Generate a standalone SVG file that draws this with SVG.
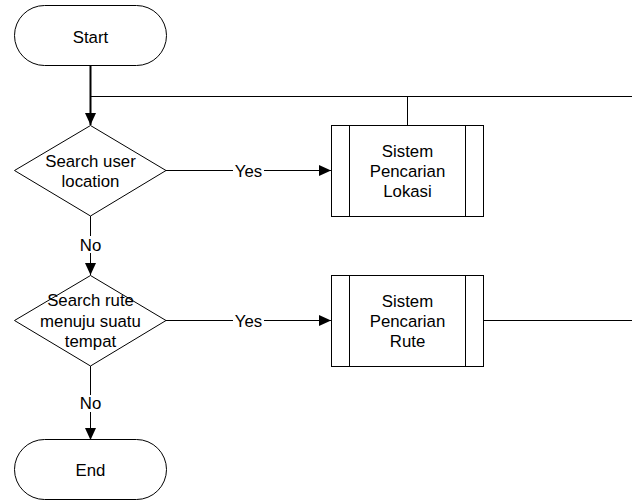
<svg xmlns="http://www.w3.org/2000/svg" width="632" height="500" viewBox="0 0 632 500">
<style>
.s{fill:#fff;stroke:#000;stroke-width:1}
.c{fill:none;stroke:#000;stroke-width:1}
text{font-family:"Liberation Sans",Arial,sans-serif;font-size:16.8px;fill:#000;text-anchor:middle}
.lb{fill:#fff;stroke:none}
</style>
<defs>
<marker id="a" viewBox="0 0 12 11" refX="12" refY="5.5" markerWidth="12" markerHeight="11" markerUnits="userSpaceOnUse" orient="auto"><path d="M0,0 L12,5.5 L0,11 Z" fill="#000"/></marker>
</defs>
<g id="connectors">
<path class="c" d="M90.5,66 V125" style="stroke-width:2" marker-end="url(#a)"/>
<path class="c" d="M90.5,96.5 H632"/>
<path class="c" d="M407.5,96.5 V125"/>
<path class="c" d="M166,170.5 H331" marker-end="url(#a)"/>
<path class="c" d="M90.5,216 V275" marker-end="url(#a)"/>
<path class="c" d="M166,320.5 H331" marker-end="url(#a)"/>
<path class="c" d="M483,320.5 H632"/>
<path class="c" d="M90.5,366 V440" marker-end="url(#a)"/>
<rect class="lb" x="233" y="162" width="31" height="17"/>
<text x="248.5" y="176.7">Yes</text>
<rect class="lb" x="233" y="312" width="31" height="17"/>
<text x="248.5" y="326.7">Yes</text>
<rect class="lb" x="76" y="236" width="29" height="17"/>
<text x="90.5" y="250.7">No</text>
<rect class="lb" x="76" y="395" width="29" height="17"/>
<text x="90.5" y="409">No</text>
</g>
<g id="start">
<rect class="s" x="14.5" y="5.5" width="152" height="60" rx="30" ry="30"/>
<text x="90.5" y="42.7">Start</text>
</g>
<g id="d1">
<path class="s" d="M90.5,125.5 L166,170.5 L90.5,216 L14.5,170.5 Z"/>
<text x="90.5" y="166.7">Search user</text>
<text x="90.5" y="186.7">location</text>
</g>
<g id="p1">
<rect class="s" x="331.5" y="125.5" width="152" height="91"/>
<path class="c" d="M349.5,125.5 V216.5 M465.5,125.5 V216.5"/>
<text x="407.5" y="156.7">Sistem</text>
<text x="407.5" y="176.7">Pencarian</text>
<text x="407.5" y="196.7">Lokasi</text>
</g>
<g id="d2">
<path class="s" d="M90.5,275.5 L166,320.5 L90.5,366 L14.5,320.5 Z"/>
<text x="90.5" y="306.3">Search rute</text>
<text x="90.5" y="326.7">menuju suatu</text>
<text x="90.5" y="346.7">tempat</text>
</g>
<g id="p2">
<rect class="s" x="331.5" y="275.5" width="152" height="91"/>
<path class="c" d="M349.5,275.5 V366.5 M465.5,275.5 V366.5"/>
<text x="407.5" y="306.7">Sistem</text>
<text x="407.5" y="326.7">Pencarian</text>
<text x="407.5" y="346.7">Rute</text>
</g>
<g id="end">
<rect class="s" x="14.5" y="439.5" width="152" height="60" rx="30" ry="30"/>
<text x="90.5" y="475.7">End</text>
</g>
</svg>
